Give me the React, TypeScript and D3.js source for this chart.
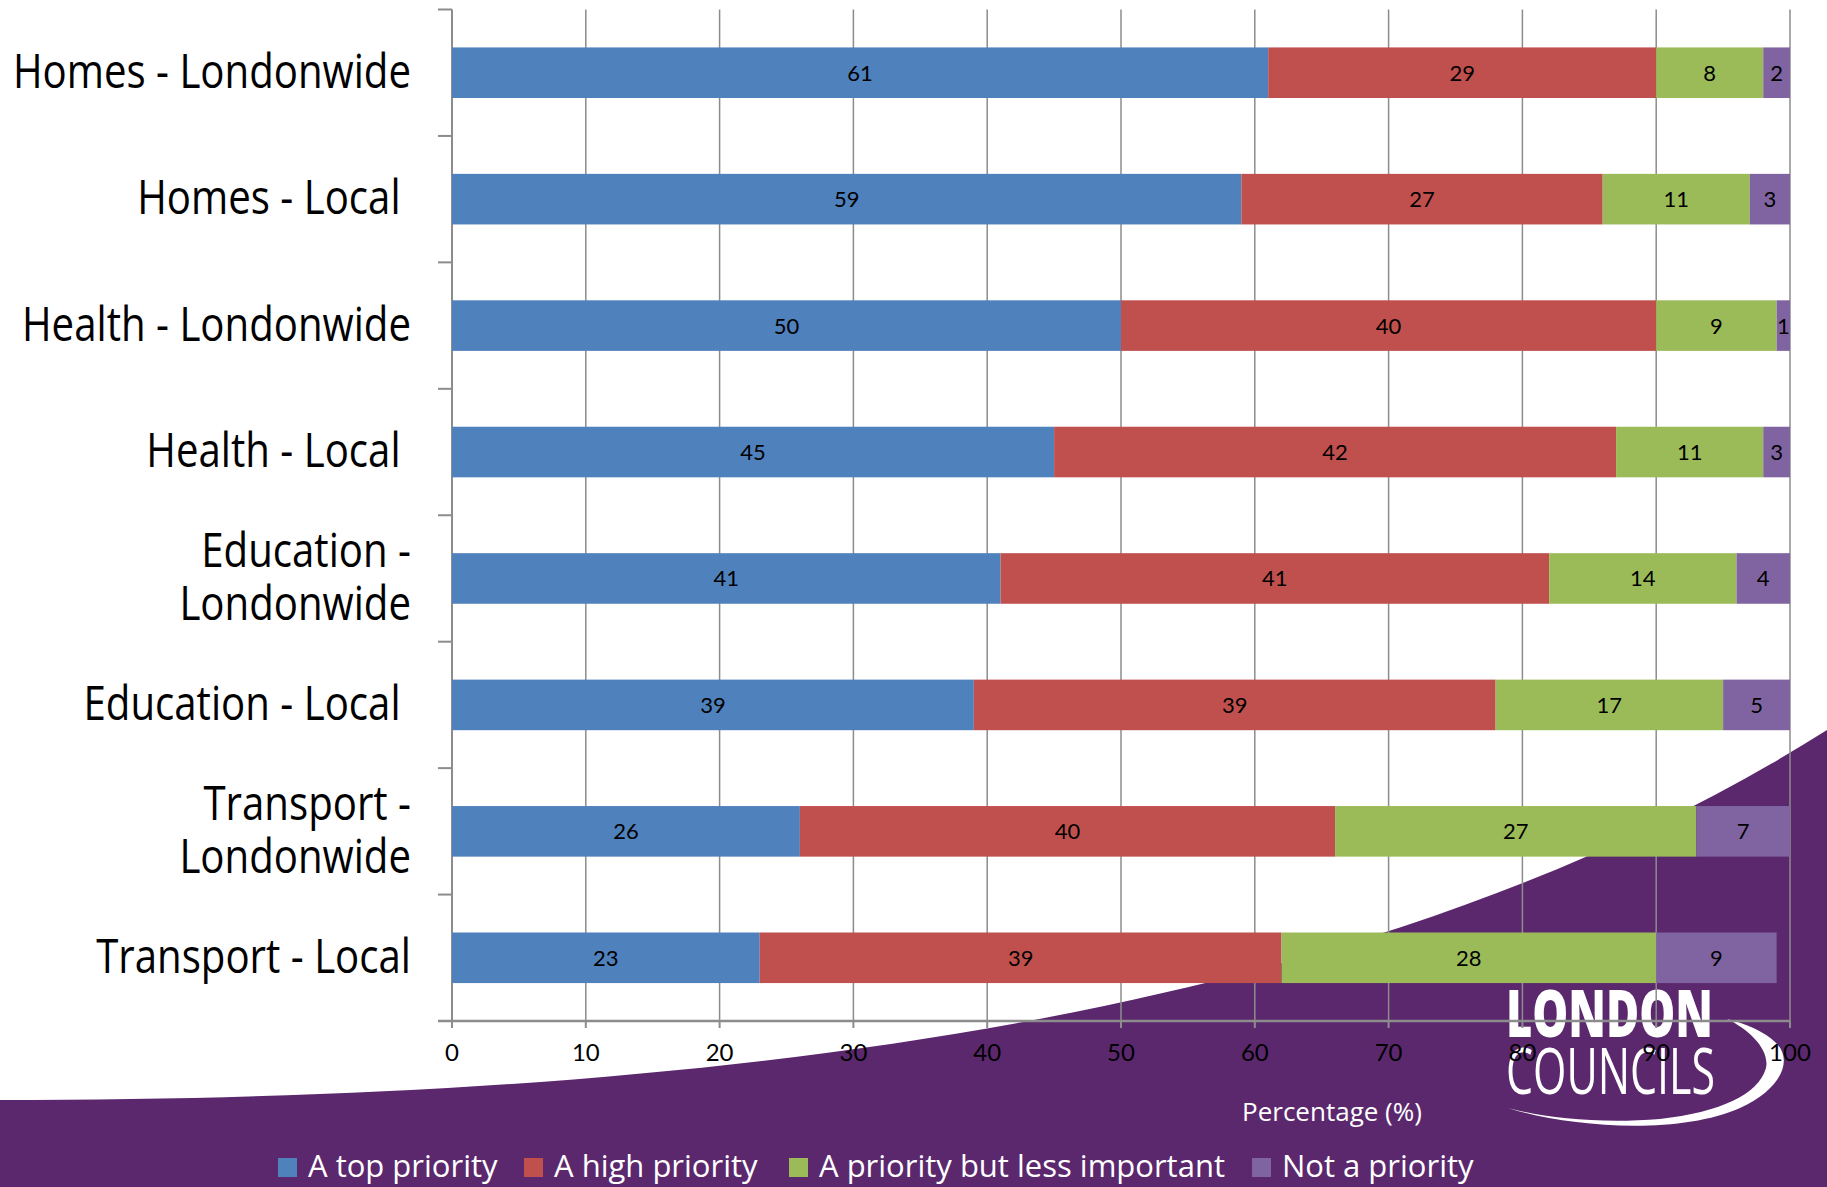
import { useEffect } from "react";
import * as d3 from "d3";

const categories = [
    "Homes - Londonwide",
    "Homes - Local ",
    "Health - Londonwide",
    "Health - Local ",
    "Education -\nLondonwide",
    "Education - Local ",
    "Transport -\nLondonwide",
    "Transport - Local",
];

const seriesNames = ["A top priority", "A high priority", "A priority but less important", "Not a priority"];
const topPriority = [61, 59, 50, 45, 41, 39, 26, 23];
const highPriority = [29, 27, 40, 42, 41, 39, 40, 39];
const lessImportant = [8, 11, 9, 11, 14, 17, 27, 28];
const notPriority = [2, 3, 1, 3, 4, 5, 7, 9];
const xTicks = [0, 10, 20, 30, 40, 50, 60, 70, 80, 90, 100];

const colors = ["#4f81bd", "#c0504d", "#9bbb59", "#8064a2"];
const purple = "#5b286e";

const W = 1827;
const H = 1187;
const legendX = [278, 524, 789, 1252];

export default function App() {
    useEffect(() => {
        document.body.style.margin = "0";
    }, []);

    const rows = categories.map((c, i) => ({
        cat: c,
        s0: topPriority[i],
        s1: highPriority[i],
        s2: lessImportant[i],
        s3: notPriority[i],
    }));
    const stack = d3.stack<any>().keys(["s0", "s1", "s2", "s3"])(rows);

    // the chart stops at 100 even where rounded values add up to 101
    const x = d3.scaleLinear().domain([0, 100]).range([452, 1790]).clamp(true);
    const y = d3.scaleBand().domain(categories).range([9.5, 1021]).paddingInner(0.6).paddingOuter(0.3);
    const step = y.step();
    const bounds = d3.range(categories.length + 1).map((i) => 9.5 + i * step);

    const labelFont = "'Open Sans', sans-serif";
    const numFont = "Lato, sans-serif";

    return (
        <svg width={W} height={H} style={{ display: "block" }}>
            <rect width={W} height={H} fill="#fff" />
            <path d="M0,1100 C800,1100 1400,1000 1827,730 L1827,1187 L0,1187 Z" fill={purple} />

            {/* logo */}
            <g fill="#fff">
                <text x={1506} y={1037} fontFamily={labelFont} fontWeight={800} fontSize={66} textLength={207} lengthAdjust="spacingAndGlyphs">
                    LONDON
                </text>
                <text x={1506} y={1094} fontFamily={labelFont} fontWeight={400} fontSize={64} textLength={209} lengthAdjust="spacingAndGlyphs">
                    COUNCILS
                </text>
                <path d="M1508,1108 C1570,1128 1680,1135 1740,1108 C1780,1090 1795,1060 1775,1042 C1765,1032 1745,1023 1727,1019 C1750,1030 1770,1050 1766,1068 C1758,1095 1720,1112 1660,1119 C1600,1124 1545,1118 1508,1108 Z" />
            </g>

            {/* grid */}
            {xTicks.slice(1).map((t) => (
                <line key={t} x1={x(t)} x2={x(t)} y1={9.5} y2={1021} stroke="#8c8c8c" strokeWidth={1.5} />
            ))}
            <line x1={x(0)} x2={x(0)} y1={9.5} y2={1021} stroke="#8c8c8c" strokeWidth={2} />
            {bounds.map((b, i) => (
                <line key={i} x1={438} x2={x(0)} y1={b} y2={b} stroke="#8c8c8c" strokeWidth={2} />
            ))}
            <line x1={438} x2={x(100)} y1={1021} y2={1021} stroke="#8c8c8c" strokeWidth={2.5} />
            {xTicks.map((t) => (
                <line key={t} x1={x(t)} x2={x(t)} y1={1021} y2={1028} stroke="#8c8c8c" strokeWidth={2} />
            ))}

            {/* bars */}
            {stack.map((layer, si) => (
                <g key={si}>
                    {layer.map((d, i) => {
                        const cat = categories[i];
                        const x0 = x(d[0]);
                        const x1 = x(d[1]);
                        const yc = (y(cat) as number) + y.bandwidth() / 2;
                        return (
                            <g key={i}>
                                <rect x={x0} y={y(cat)} width={x1 - x0} height={y.bandwidth()} fill={colors[si]} />
                                <text x={(x0 + x1) / 2} y={yc + 8} textAnchor="middle" fontFamily={numFont} fontSize={22} fill="#000">
                                    {d[1] - d[0]}
                                </text>
                            </g>
                        );
                    })}
                </g>
            ))}

            {/* category labels */}
            {categories.map((c) => {
                const yc = (y(c) as number) + y.bandwidth() / 2;
                const lines = c.split("\n");
                return (
                    <g key={c} transform={`translate(411,${yc}) scale(0.855,1)`}>
                        {lines.map((ln, li) => (
                            <text
                                key={li}
                                x={0}
                                y={lines.length === 1 ? 15 : li === 0 ? -11 : 42}
                                textAnchor="end"
                                fontFamily={labelFont}
                                fontSize={47}
                                fill="#000"
                                style={{ whiteSpace: "pre" }}
                            >
                                {ln}
                            </text>
                        ))}
                    </g>
                );
            })}

            {/* x tick labels */}
            {xTicks.map((t) => (
                <text key={t} x={x(t)} y={1061} textAnchor="middle" fontFamily={numFont} fontSize={24} fill="#000">
                    {t}
                </text>
            ))}
            <text x={1332} y={1121} textAnchor="middle" fontFamily={labelFont} fontSize={26} fill="#fff">
                Percentage (%)
            </text>

            {/* legend */}
            {seriesNames.map((s, i) => (
                <g key={s}>
                    <rect x={legendX[i]} y={1158} width={19} height={19} fill={colors[i]} />
                    <text x={legendX[i] + 30} y={1177} fontFamily={labelFont} fontSize={31} fill="#fff">
                        {s}
                    </text>
                </g>
            ))}
        </svg>
    );
}
